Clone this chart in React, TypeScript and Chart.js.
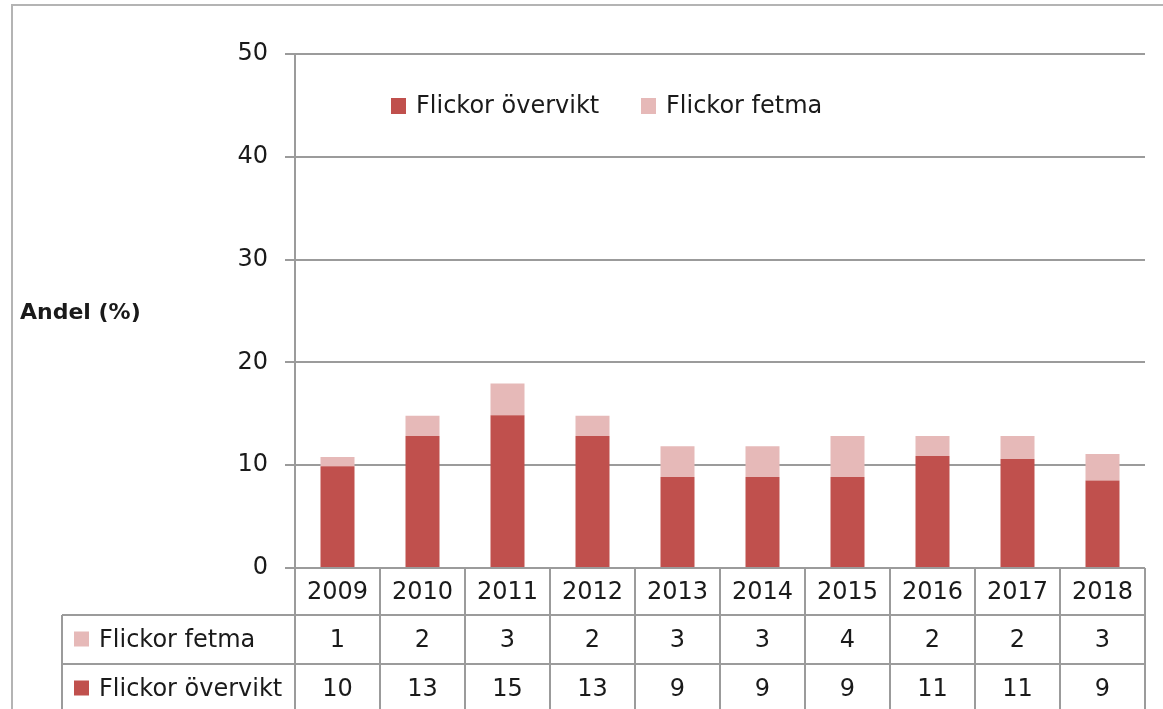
import React, { useEffect, useRef } from "react";
import { Chart, registerables } from "chart.js";

Chart.register(...registerables);

const categories = ["2009", "2010", "2011", "2012", "2013", "2014", "2015", "2016", "2017", "2018"];
const overviktValues = [9.9, 12.85, 14.85, 12.85, 8.85, 8.85, 8.85, 10.9, 10.6, 8.5];
const fetmaValues = [0.9, 1.95, 3.1, 1.95, 3.0, 3.0, 4.0, 1.95, 2.25, 2.6];
const fetmaTableLabels = ["1", "2", "3", "2", "3", "3", "4", "2", "2", "3"];
const overviktTableLabels = ["10", "13", "15", "13", "9", "9", "9", "11", "11", "9"];
const yAxisTitle = "Andel (%)";
const overviktLabel = "Flickor övervikt";
const fetmaLabel = "Flickor fetma";

const DARK = "#C0504D";
const LIGHT = "#E6B9B8";
const GRID = "#9b9b9b";
const TEXT = "#1a1a1a";
const FONT = "'DejaVu Sans', sans-serif";

const tablePlugin = {
  id: "tablePlugin",
  afterDraw(chart: any) {
    const ctx = chart.ctx as CanvasRenderingContext2D;
    const area = chart.chartArea;
    const xs = chart.scales.x;
    const ds = chart.data.datasets;
    ctx.save();

    // outer frame
    ctx.strokeStyle = "#b4b4b4";
    ctx.lineWidth = 2;
    ctx.strokeRect(12, 5, 1200, 800);

    // table geometry
    const half = (xs.getPixelForValue(1) - xs.getPixelForValue(0)) / 2;
    const bounds: number[] = [];
    for (let i = 0; i <= categories.length; i++) {
      bounds.push(i < categories.length ? xs.getPixelForValue(i) - half : xs.getPixelForValue(categories.length - 1) + half);
    }
    const row0Top = area.bottom;
    const row1Top = row0Top + 47;
    const row2Top = row1Top + 49;
    const row2Bottom = row2Top + 49;
    const tableLeft = 62;

    ctx.strokeStyle = GRID;
    ctx.lineWidth = 2;
    ctx.beginPath();
    bounds.forEach((bx) => {
      ctx.moveTo(bx, row0Top);
      ctx.lineTo(bx, row2Bottom + 10);
    });
    ctx.moveTo(tableLeft, row1Top);
    ctx.lineTo(bounds[bounds.length - 1], row1Top);
    ctx.moveTo(tableLeft, row2Top);
    ctx.lineTo(bounds[bounds.length - 1], row2Top);
    ctx.moveTo(tableLeft, row1Top);
    ctx.lineTo(tableLeft, row2Bottom + 10);
    ctx.stroke();

    ctx.fillStyle = TEXT;
    ctx.font = `24px ${FONT}`;
    ctx.textAlign = "center";
    ctx.textBaseline = "middle";
    categories.forEach((c, i) => {
      const cx = xs.getPixelForValue(i);
      ctx.fillText(c, cx, (row0Top + row1Top) / 2 + 1);
      ctx.fillText(fetmaTableLabels[i], cx, (row1Top + row2Top) / 2 + 1);
      ctx.fillText(overviktTableLabels[i], cx, (row2Top + row2Bottom) / 2 + 1);
    });

    // row headers
    const rows = [
      { ds: ds[1], top: row1Top, bottom: row2Top },
      { ds: ds[0], top: row2Top, bottom: row2Bottom },
    ];
    ctx.textAlign = "left";
    rows.forEach((r) => {
      const cy = (r.top + r.bottom) / 2;
      ctx.fillStyle = r.ds.backgroundColor;
      ctx.fillRect(74, cy - 8, 15, 15);
      ctx.fillStyle = TEXT;
      ctx.fillText(r.ds.label, 99, cy + 1);
    });

    // legend inside plot
    const legendItems = [
      { ds: ds[0], x: 391 },
      { ds: ds[1], x: 641 },
    ];
    const ly = 106;
    legendItems.forEach((l) => {
      ctx.fillStyle = l.ds.backgroundColor;
      ctx.fillRect(l.x, ly - 8, 15, 16);
      ctx.fillStyle = TEXT;
      ctx.fillText(l.ds.label, l.x + 25, ly + 1);
    });

    // y axis title
    ctx.font = `bold 22px ${FONT}`;
    ctx.fillText(yAxisTitle, 20, 313);

    ctx.restore();
  },
};

export default function App() {
  const ref = useRef<HTMLCanvasElement | null>(null);
  useEffect(() => {
    if (!ref.current) return;
    const chart = new Chart(ref.current, {
      type: "bar",
      data: {
        labels: categories,
        datasets: [
          { label: overviktLabel, data: overviktValues, backgroundColor: DARK, borderWidth: 0 },
          { label: fetmaLabel, data: fetmaValues, backgroundColor: LIGHT, borderWidth: 0 },
        ],
      },
      options: {
        responsive: false,
        animation: false,
        layout: { padding: { left: 215, top: 54, right: 18, bottom: 141 } },
        plugins: { legend: { display: false }, tooltip: { enabled: false } },
        datasets: { bar: { barPercentage: 0.4, categoryPercentage: 1 } },
        scales: {
          x: { stacked: true, display: false },
          y: {
            stacked: true,
            min: 0,
            max: 50,
            ticks: { stepSize: 10, color: TEXT, font: { family: FONT, size: 24 }, padding: 17 },
            grid: { color: GRID, lineWidth: 2, tickLength: 10, drawTicks: true },
            border: { color: GRID, width: 2 },
            afterFit: (s: any) => {
              s.width = 80;
            },
          },
        },
      },
      plugins: [tablePlugin],
    });
    return () => chart.destroy();
  }, []);
  return (
    <div style={{ position: "absolute", left: 0, top: 0, width: 1163, height: 709, background: "#fff" }}>
      <canvas ref={ref} width={1163} height={709} style={{ width: 1163, height: 709 }} />
    </div>
  );
}
